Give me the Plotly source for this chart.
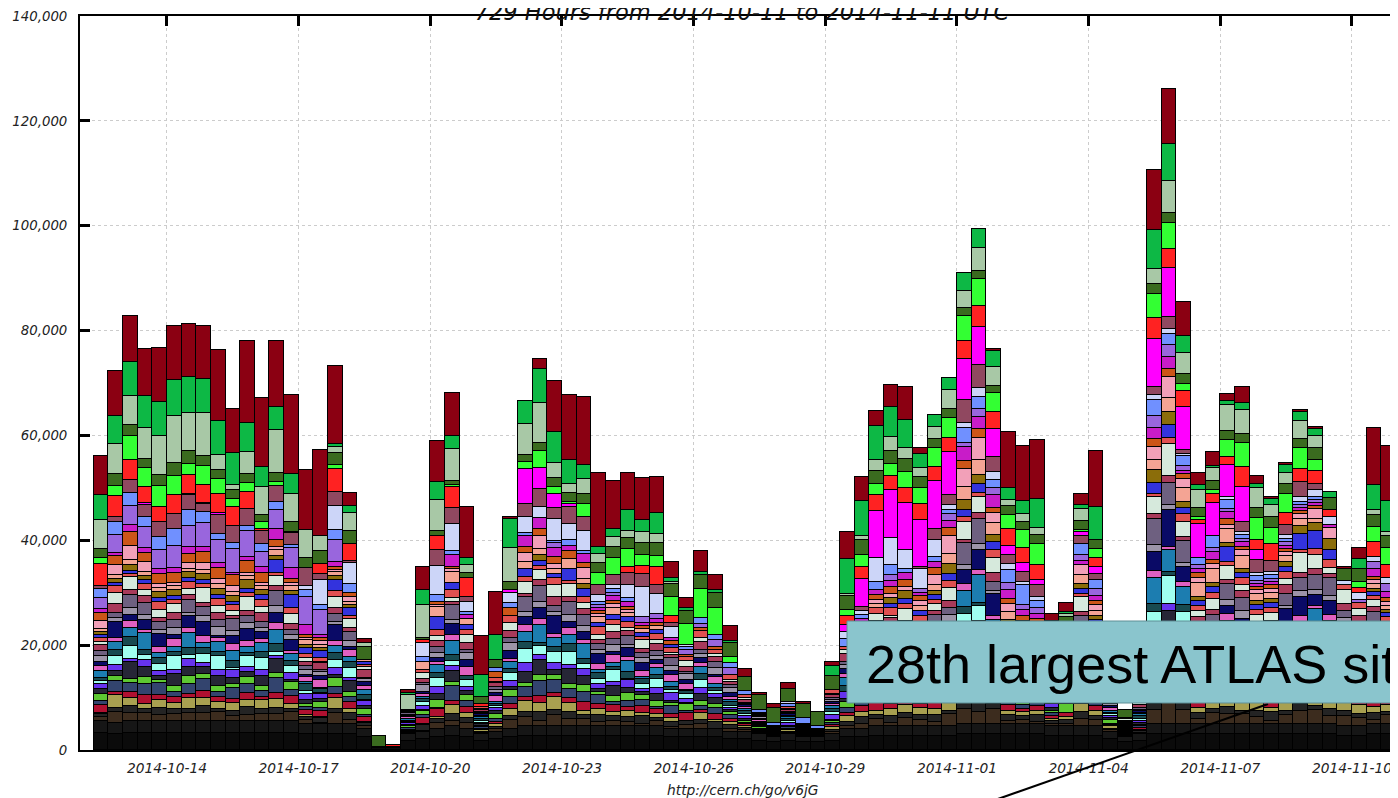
import pandas as pd
import plotly.graph_objects as go

# ---------------- data (values in thousands of jobs per 8-hour bin) ----------------
bin_start = "2014-10-12 08:00"
bin_hours = 8
n_bins = 90
tick_dates = ["2014-10-14", "2014-10-17", "2014-10-20", "2014-10-23", "2014-10-26",
              "2014-10-29", "2014-11-01", "2014-11-04", "2014-11-07", "2014-11-10"]
y_ticks = [0, 20000, 40000, 60000, 80000, 100000, 120000, 140000]
title_text = "729 Hours from 2014-10-11 to 2014-11-11 UTC"
url_text = "http://cern.ch/go/v6jG"
callout_text = "28th largest ATLAS site"

site_darkred = [7.3, 8.4, 8.8, 8.9, 10.3, 10.3, 10.1, 10.1, 13.6, 8.4,
                15.8, 13.3, 12.7, 15.1, 11.5, 16.4, 15.0, 2.5, 0.6, 0,
                0, 0.6, 4.5, 7.7, 8.2, 9.7, 7.3, 8.3, 0.4, 0,
                1.8, 9.7, 12.4, 13.1, 14.2, 9.2, 7.1, 8.0, 6.8, 3.0,
                2.0, 4.0, 2.9, 2.9, 1.5, 0.4, 0.6, 1.2, 0.4, 0,
                0.6, 5.1, 4.6, 2.9, 4.3, 6.2, 1.1, 0, 0, 0,
                0, 0.4, 10.6, 10.5, 11.3, 1.2, 1.6, 2.1, 10.7, 0,
                0, 0, 11.5, 10.5, 6.5, 2.4, 2.6, 1.4, 3.2, 1.6,
                0.4, 0.5, 0.5, 0.3, 0, 0.5, 2.1, 10.9, 10.5, 7.7]
site_green = [4.8, 5.5, 6.5, 6.1, 6.6, 6.9, 7.0, 6.6, 6.4, 6.1,
              5.4, 3.8, 4.3, 3.7, 0, 0, 0.6, 1.3, 0, 0,
              0, 0.4, 2.9, 3.5, 2.4, 1.3, 4.3, 4.8, 5.4, 4.3,
              6.6, 5.9, 4.5, 2.7, 1.3, 1.5, 4.1, 2.2, 4.1, 0.8,
              0.5, 0.5, 0.6, 0.3, 0, 0, 0, 0, 0, 0,
              2.0, 6.6, 6.6, 6.4, 5.7, 5.4, 2.7, 2.2, 2.3, 3.3,
              3.5, 3.1, 2.4, 2.4, 5.5, 1.5, 0.5, 0.7, 6.4, 0,
              0, 0, 7.5, 7.0, 3.2, 0.9, 0.5, 0.7, 1.2, 0.8,
              1.2, 1.4, 1.6, 1.5, 1.2, 0, 1.9, 4.8, 6.0, 7.0]
site_sage = [5.5, 5.6, 5.5, 5.9, 7.3, 9.0, 7.2, 8.2, 2.9, 1.0,
             4.3, 5.2, 8.2, 5.4, 5.3, 3.0, 1.1, 3.6, 0.8, 0,
             0, 2.7, 6.2, 5.9, 6.0, 1.6, 0, 0, 6.6, 5.9,
             7.5, 2.8, 1.7, 2.7, 1.8, 1.9, 1.3, 2.2, 1.7, 0.5,
             0, 0, 0, 0, 0, 0, 0, 0, 0, 0,
             0, 0.4, 0.8, 2.1, 2.7, 2.0, 1.8, 2.4, 3.6, 3.2,
             4.5, 3.6, 1.1, 1.5, 1.4, 1.5, 0.5, 2.4, 0, 0,
             0, 0, 2.9, 6.0, 4.1, 3.4, 2.4, 4.9, 4.6, 3.8,
             2.2, 2.2, 3.4, 2.2, 0, 0, 0, 0.8, 0.7, 0]
site_darkgreen = [1.8, 2.4, 2.1, 1.9, 2.2, 2.4, 2.5, 1.9, 1.8, 1.7,
                  1.7, 1.5, 1.8, 1.9, 1.9, 2.4, 2.2, 2.4, 2.5, 2.2,
                  0, 0, 0.5, 1.0, 0.8, 0.9, 1.3, 1.5, 1.4, 1.4,
                  1.6, 1.8, 1.8, 2.0, 1.9, 2.1, 2.1, 2.2, 2.5, 2.4,
                  2.4, 2.7, 2.9, 2.7, 2.7, 2.7, 2.9, 2.4, 2.7, 2.7,
                  2.7, 2.7, 2.9, 2.5, 2.4, 2.5, 2.1, 1.7, 1.7, 1.7,
                  1.4, 1.4, 1.7, 1.6, 1.7, 1.8, 1.8, 1.6, 1.6, 1.5,
                  1.5, 0, 1.9, 1.9, 1.9, 1.8, 1.8, 1.8, 1.8, 1.8,
                  2.2, 1.8, 1.8, 2.2, 2.2, 2.3, 2.4, 2.3, 2.3, 2.0]
site_brightgreen = [1.1, 1.9, 4.6, 3.6, 3.9, 3.6, 2.0, 3.6, 2.7, 1.6,
                    1.6, 1.3, 0.8, 0.3, 0, 0, 0.8, 0, 0, 0,
                    0, 0, 0, 0, 0.5, 0, 0, 0, 0, 1.3,
                    3.2, 1.3, 0.4, 2.5, 2.2, 3.4, 3.3, 2.1, 2.0, 3.6,
                    4.0, 5.6, 5.0, 1.3, 0, 0, 0, 0, 0, 0,
                    0, 1.1, 2.2, 2.2, 2.4, 3.2, 3.0, 3.7, 3.8, 4.7,
                    5.2, 3.6, 2.7, 3.3, 4.1, 1.5, 1.5, 0.5, 1.7, 0,
                    0, 0, 4.5, 5.1, 1.4, 0.5, 0.7, 3.2, 4.6, 4.3,
                    3.1, 3.6, 4.0, 2.1, 0, 0, 1.2, 3.0, 3.2, 2.0]
site_red = [4.3, 3.9, 3.8, 3.0, 3.0, 3.7, 3.6, 3.3, 3.7, 3.6,
            3.4, 0.4, 0, 0, 0, 1.9, 4.3, 3.2, 0, 0,
            0.4, 0, 0.4, 2.7, 4.0, 3.7, 0.6, 0, 0, 0,
            0, 0, 0, 0, 0, 0, 1.2, 1.5, 3.6, 1.4,
            0, 0, 0, 0, 0, 0, 0, 0, 0, 0,
            0, 1.7, 2.4, 3.0, 2.7, 2.7, 3.0, 2.5, 2.7, 3.5,
            4.1, 3.2, 3.2, 3.0, 2.7, 1.0, 1.5, 0, 1.7, 0,
            0, 1.0, 4.1, 3.6, 2.9, 0.7, 1.6, 1.5, 3.7, 1.9,
            3.1, 2.4, 2.4, 2.5, 1.4, 0, 1.0, 2.7, 2.5, 1.5]
site_magenta = [0, 0, 0, 0.3, 0, 0, 0.3, 0.3, 0.3, 0,
                0, 0, 0, 0, 0, 0, 0, 0, 0, 0,
                0, 0, 0, 0, 0, 0, 0, 0, 0.6, 6.7,
                4.0, 2.7, 0.6, 0, 0, 0, 0, 0, 0, 0,
                0, 0, 0, 0, 0, 0, 0, 0, 0, 0,
                0, 1.3, 5.4, 9.0, 9.1, 9.0, 8.9, 9.2, 8.3, 7.7,
                7.1, 5.4, 1.7, 1.6, 1.0, 0, 1.0, 0.7, 1.5, 0,
                0, 0, 9.0, 9.3, 8.3, 6.5, 6.3, 6.2, 6.8, 1.8,
                0, 0, 0, 0, 0, 0, 0, 0, 0, 0]
site_mauve = [0.4, 1.0, 2.5, 2.4, 2.7, 2.9, 2.9, 1.5, 3.7, 3.3,
              3.1, 2.5, 3.0, 2.2, 3.5, 1.1, 2.7, 0.4, 0, 0,
              0, 0, 0, 3.0, 3.0, 0.8, 0, 0, 0, 2.4,
              3.5, 2.1, 3.1, 2.7, 1.9, 1.9, 2.3, 2.5, 1.6, 0.8,
              0, 0, 0, 0, 0, 0, 0, 0, 0, 0,
              0, 0, 0.6, 0, 0, 0, 0.4, 2.1, 1.9, 4.5,
              4.5, 2.8, 1.8, 1.9, 2.4, 1.0, 1.0, 1.6, 1.0, 0,
              0, 0, 1.6, 2.3, 0.7, 0, 0, 0, 1.8, 2.6,
              2.1, 1.8, 2.9, 1.2, 0, 0, 0, 0, 0, 0]
site_lavender = [0, 0, 0, 0, 0, 0, 0, 0, 0, 0,
                 0, 0, 0, 0, 0.6, 4.8, 4.6, 4.1, 0, 0,
                 0, 0, 2.8, 5.6, 5.1, 1.9, 0, 0, 1.9, 3.2,
                 2.0, 4.1, 3.2, 3.8, 1.4, 0.7, 2.5, 5.7, 3.8, 2.1,
                 0.5, 0, 0, 0, 0, 0, 0, 0.4, 0, 0,
                 0, 1.5, 0.8, 4.5, 5.1, 3.7, 3.9, 3.2, 0.9, 0.9,
                 1.6, 1.5, 1.1, 0.6, 0.6, 0.8, 0, 0, 0, 0,
                 0, 0.8, 1.0, 1.0, 0.5, 0, 0, 0.5, 0.5, 0.6,
                 0.6, 0.9, 1.0, 1.4, 1.4, 0.7, 1.2, 1.1, 1.2, 1.0]
site_cornflower = [1.8, 2.4, 2.4, 1.9, 2.5, 3.1, 2.9, 2.1, 1.2, 1.1,
                   1.1, 1.4, 1.5, 0.6, 1.5, 1.0, 1.9, 1.6, 0, 0,
                   0, 0, 1.0, 1.3, 0.8, 0.6, 0, 0.8, 1.0, 0.4,
                   0, 0.5, 1.0, 0.6, 0.5, 0.8, 0.7, 0, 0, 0,
                   0.6, 1.0, 1.0, 0.8, 0.8, 0.6, 0.6, 0.6, 1.1, 0.6,
                   0, 1.4, 0.8, 1.5, 1.9, 0.8, 0, 1.0, 0.8, 2.8,
                   2.4, 1.5, 2.4, 3.8, 1.5, 1.0, 1.0, 2.1, 1.8, 0.8,
                   0, 0, 2.9, 2.1, 1.8, 1.4, 2.4, 1.7, 0.8, 0.8,
                   0.8, 0.6, 0.5, 0.5, 0, 0, 0, 0, 0, 0.8]
site_purple = [2.2, 3.5, 3.6, 3.9, 3.7, 4.3, 4.1, 4.6, 4.3, 4.5,
               4.8, 2.9, 3.7, 3.7, 5.2, 4.8, 4.3, 0, 0, 0,
               0, 0, 0, 0, 0, 0, 0, 0, 0, 0,
               0, 0.8, 0, 0, 0.6, 0.6, 0, 1.1, 1.1, 0,
               0.8, 0.8, 1.4, 1.3, 0, 0, 0, 0, 0, 0,
               0, 0, 0, 0, 1.1, 0, 0.8, 0, 1.3, 0.8,
               1.4, 1.3, 1.3, 1.0, 1.0, 0, 0, 1.0, 1.4, 0,
               0, 0, 2.3, 2.2, 1.0, 0.8, 0.8, 0.6, 0.6, 0.6,
               0.6, 0.6, 0.6, 0.6, 0, 0, 0.6, 1.2, 1.5, 0.8]
site_violet = [0.6, 0.6, 1.4, 1.0, 1.0, 1.0, 1.3, 0.9, 1.0, 0.5,
               0.8, 1.1, 2.0, 2.1, 1.9, 0.6, 0.8, 0, 0, 0,
               0, 0, 0, 0, 2.2, 0.8, 0, 0, 0, 2.2,
               2.2, 1.8, 1.0, 1.6, 0.6, 0.8, 1.0, 0.6, 0.6, 0.6,
               0, 0, 0, 0, 0, 0, 0, 0, 0, 0,
               0, 0, 0.8, 1.1, 1.3, 1.3, 0.6, 1.1, 1.4, 2.7,
               2.4, 2.5, 1.8, 1.2, 1.0, 0, 0, 0.8, 0.9, 0,
               0, 0, 2.1, 2.3, 0.6, 0.8, 1.4, 1.4, 0.9, 0.6,
               0.6, 0.6, 0.6, 0.6, 0.6, 0, 0, 1.6, 1.2, 0.8]
site_orange = [1.6, 1.8, 2.7, 1.8, 1.8, 1.9, 1.7, 2.1, 2.0, 2.1,
               2.4, 1.9, 1.4, 0.8, 0.6, 0.6, 0.6, 0.8, 0, 0,
               0, 0, 0, 0.5, 0.5, 0, 0, 1.1, 1.5, 1.1,
               1.3, 1.4, 1.5, 1.0, 0.6, 0.7, 0.6, 0.6, 0.6, 0.6,
               0.5, 0.6, 0.6, 0, 0, 0, 0, 0, 0, 0,
               0, 0, 0.6, 0.8, 1.2, 1.3, 0.8, 1.5, 1.4, 1.5,
               1.6, 1.0, 1.0, 0.8, 0.8, 0, 0, 0, 0.8, 0,
               0, 0, 1.6, 1.5, 1.0, 0.8, 0.8, 1.1, 0.6, 0.6,
               0.6, 0.6, 0.6, 0.6, 0, 0, 0, 0.6, 0.6, 0.6]
site_pink = [1.5, 1.8, 2.7, 1.8, 0.8, 0.6, 1.1, 1.3, 1.1, 1.0,
             0.6, 0.6, 0.5, 0.6, 0.5, 0.6, 0.5, 1.0, 0, 0,
             0, 0, 0, 0.5, 0.5, 0, 0, 0, 0, 1.7,
             2.5, 0.8, 0, 2.0, 0.6, 0.8, 0.6, 0, 0, 0,
             0, 0, 0, 0, 0, 0, 0, 0, 0, 0,
             0, 0, 0, 0.8, 0.8, 0.8, 1.0, 1.9, 3.5, 3.5,
             4.2, 1.9, 1.5, 1.2, 1.2, 0, 0, 1.9, 1.0, 0,
             0, 0, 2.5, 4.1, 1.6, 1.0, 1.0, 0.8, 1.2, 0.8,
             0.8, 0.8, 1.0, 1.8, 2.2, 0, 0, 0.8, 0.8, 0.6]
site_salmon = [0.6, 0.8, 1.0, 0.8, 0.8, 0.7, 0.7, 0.9, 0.8, 0.8,
               0.7, 0.8, 1.2, 1.0, 0.8, 0.7, 0.7, 0.6, 0.4, 0,
               0, 0, 1.5, 1.9, 2.1, 1.1, 0, 0, 0, 1.3,
               1.1, 1.1, 2.0, 1.1, 1.0, 1.2, 0.8, 0.8, 0.8, 0,
               0, 0, 0, 0, 0, 0, 0, 0, 0, 0,
               0, 0, 0, 0.8, 0, 0, 1.0, 1.0, 2.0, 2.4,
               2.9, 2.3, 1.5, 1.2, 1.2, 0, 0, 1.8, 1.0, 1.5,
               0, 1.0, 1.9, 2.6, 2.7, 2.7, 2.7, 2.6, 2.4, 1.2,
               1.2, 1.2, 1.2, 0.8, 0, 0, 0, 0.8, 0.8, 0.6]
site_olive = [0.5, 0.7, 1.0, 0.8, 1.2, 1.2, 1.1, 1.1, 1.2, 1.1,
              1.7, 1.0, 0.8, 0.8, 0.6, 0.5, 0.8, 0.6, 0, 0,
              0, 0, 0, 0, 0, 0, 0, 0, 0, 0,
              1.1, 0, 0, 0.9, 0, 0, 0, 0, 0, 0,
              0, 0, 0, 0, 0, 0, 0, 0, 0, 0,
              0, 0, 0, 0, 1.1, 1.5, 0, 0.8, 1.9, 2.0,
              1.7, 1.4, 1.0, 0.8, 0.8, 0, 0, 0.8, 0.8, 0,
              0, 0, 2.4, 2.5, 1.2, 0.8, 0.8, 0.8, 0.8, 0.8,
              0.8, 0.8, 1.6, 1.6, 2.1, 0, 0, 0.6, 0.6, 0.6]
site_blue = [0.6, 0.6, 0.6, 0.8, 0.6, 0.6, 0.8, 0.8, 0.8, 0.7,
             0.8, 0.8, 2.5, 2.5, 1.2, 1.3, 2.0, 1.4, 0.5, 0,
             0, 0, 0, 2.4, 1.3, 1.0, 0, 0, 0, 1.6,
             1.0, 0.6, 2.2, 1.6, 0.8, 1.0, 0.8, 0.7, 0.7, 0.6,
             0, 0, 0, 0, 0, 0, 0, 0, 0, 0,
             0, 0, 0, 0, 0.8, 1.0, 1.0, 1.0, 1.3, 1.3,
             1.7, 1.5, 1.2, 1.0, 1.0, 0, 0, 1.0, 1.0, 0,
             0, 0, 2.1, 2.5, 1.0, 1.0, 1.0, 2.9, 1.0, 1.0,
             1.0, 1.0, 3.1, 3.4, 1.8, 0, 0, 0.8, 0.8, 0.6]

# many smaller sites in the middle of the stack
site_coral = [0.8, 1.4, 0.6, 1.1, 1.6, 0.9, 1.2, 0.7, 1.3, 1.0,
              0.8, 1.4, 0.6, 1.1, 0.7, 0.9, 1.2, 0.7, 0.5, 0,
              0, 0.2, 0.6, 1.1, 1.6, 0.9, 0.3, 0.7, 1.3, 1.0,
              0.8, 1.4, 0.6, 1.1, 1.6, 0.9, 1.2, 0.7, 1.3, 1.0,
              0.8, 1.4, 0.6, 1.1, 0.4, 0.2, 0.1, 0.3, 0.1, 0.1,
              0.8, 0.7, 0.6, 1.1, 1.6, 0.9, 1.2, 0.7, 1.3, 1.0,
              0.8, 1.4, 0.6, 1.1, 1.6, 0.9, 0.6, 0.7, 1.3, 0.3,
              0.2, 0.3, 0.6, 1.1, 1.6, 0.9, 1.2, 0.7, 1.3, 1.0,
              0.8, 1.4, 0.6, 1.1, 1.6, 0.9, 1.2, 0.7, 1.3, 0.5]
site_mint = [0.6, 2.1, 2.5, 1.2, 1.5, 1.7, 1.2, 2.8, 1.3, 1.0,
             2.5, 1.2, 1.9, 1.8, 0.8, 0.2, 2.2, 1.6, 0.6, 0,
             0, 0.2, 1.0, 1.0, 0.7, 1.6, 0.3, 0.2, 1.6, 2.2,
             1.9, 2.4, 2.5, 1.1, 0.9, 1.4, 0.6, 1.6, 0.7, 0.4,
             1.0, 0.7, 0.7, 0.4, 0.4, 0.2, 0.2, 0.3, 0.1, 0.1,
             0.1, 0.7, 2.0, 1.4, 0.4, 2.2, 1.1, 1.4, 2.4, 3.4,
             3.1, 3.0, 1.4, 0.3, 0.4, 0.2, 0.6, 2.7, 0.8, 0.3,
             0.3, 0.4, 3.3, 6.2, 2.9, 1.1, 2.1, 2.7, 1.2, 1.9,
             1.6, 1.2, 3.8, 2.6, 1.2, 2.7, 1.4, 1.5, 1.4, 0.5]
site_rose = [1.1, 1.6, 0.9, 1.2, 0.7, 1.3, 1.0, 0.8, 1.4, 0.6,
             1.1, 1.6, 0.9, 1.2, 0.7, 1.3, 1.0, 0.8, 1.4, 0,
             0, 0.3, 0.9, 1.2, 0.7, 1.3, 0.3, 0.8, 1.4, 0.6,
             1.1, 1.6, 0.9, 1.2, 0.7, 1.3, 1.0, 0.8, 1.4, 0.6,
             1.1, 1.6, 0.9, 0.5, 0.7, 0.2, 0.1, 0.3, 0.1, 0.1,
             0.5, 1.6, 0.9, 1.2, 0.7, 1.3, 1.0, 0.8, 1.4, 0.6,
             1.1, 1.6, 0.9, 1.2, 0.7, 0.6, 1.0, 0.8, 1.4, 0.6,
             0.2, 0.4, 0.9, 1.2, 0.7, 1.3, 1.0, 0.8, 1.4, 0.6,
             1.1, 1.6, 0.9, 1.2, 0.7, 1.3, 1.0, 0.8, 1.4, 0.6]
site_greypurple = [1.0, 1.0, 2.5, 2.3, 1.6, 1.5, 2.5, 1.8, 1.4, 2.3,
                   1.3, 1.2, 2.9, 0.9, 0.9, 0.4, 1.5, 1.7, 0.2, 0,
                   0, 0.3, 0.3, 1.1, 2.8, 0.6, 0.3, 0.6, 0.8, 2.9,
                   3.0, 1.2, 2.5, 2.1, 1.2, 1.2, 1.7, 0.9, 0.8, 1.5,
                   0.3, 0.7, 1.1, 0.6, 0.1, 0.3, 0.1, 0.3, 0.2, 0.1,
                   0.5, 0.5, 1.1, 1.6, 2.3, 1.0, 1.6, 2.4, 1.4, 4.2,
                   4.8, 1.7, 1.2, 0.9, 0.8, 0.6, 0.7, 1.7, 1.0, 0.3,
                   0.2, 0.4, 5.0, 4.3, 4.2, 1.7, 1.5, 3.0, 2.3, 1.6,
                   1.6, 2.3, 2.4, 2.9, 3.5, 1.4, 1.9, 2.5, 0.6, 0.5]
site_grey = [1.2, 0.7, 1.3, 1.0, 0.8, 1.4, 0.6, 1.1, 1.6, 0.9,
             1.2, 0.7, 1.3, 1.0, 0.8, 0.7, 0.6, 1.1, 0.7, 0,
             0, 0.2, 1.3, 1.0, 0.8, 1.4, 0.2, 0.5, 1.6, 0.9,
             1.2, 0.7, 1.3, 1.0, 0.8, 1.4, 0.6, 1.1, 0.8, 0.9,
             1.2, 0.7, 1.3, 1.0, 0.3, 0.2, 0.1, 0.2, 0.1, 0.1,
             0.4, 0.7, 1.3, 1.0, 0.8, 1.4, 0.6, 1.1, 1.6, 0.9,
             1.2, 0.7, 1.3, 1.0, 0.8, 0.4, 0.6, 1.1, 1.6, 0.3,
             0.2, 0.3, 1.3, 1.0, 0.8, 1.4, 0.6, 1.1, 1.6, 0.9,
             1.2, 0.7, 1.3, 1.0, 0.8, 1.4, 0.6, 1.1, 1.6, 0.4]
site_navy = [0.6, 3.1, 1.2, 1.9, 2.5, 0.7, 2.3, 2.7, 0.5, 1.6,
             2.3, 1.4, 1.8, 2.1, 0.4, 0.7, 3.1, 0.7, 0.7, 0,
             0, 0.3, 0.4, 0.7, 2.1, 1.3, 0.3, 0.6, 1.5, 1.6,
             2.2, 3.4, 1.2, 1.7, 1.9, 0.4, 1.6, 1.4, 0.8, 0.8,
             0.8, 1.0, 0.4, 0.6, 0.3, 0.3, 0.2, 0.3, 0.2, 0.1,
             0.4, 1.0, 1.5, 1.0, 1.7, 2.0, 1.3, 1.6, 2.4, 2.6,
             3.7, 4.1, 0.3, 0.7, 1.4, 0.5, 0.9, 2.6, 0.1, 0.4,
             0.3, 0.3, 3.6, 6.9, 2.8, 1.1, 3.0, 1.6, 1.5, 2.2,
             0.8, 2.5, 3.5, 2.0, 2.7, 2.5, 1.5, 1.6, 1.3, 0.4]
site_hotpink = [1.0, 0.8, 1.4, 0.6, 1.1, 1.6, 0.9, 1.2, 0.7, 1.3,
                1.0, 0.8, 1.4, 0.6, 1.1, 1.6, 0.9, 1.2, 0.7, 0,
                0, 0.3, 0.5, 0.6, 1.1, 1.6, 0.3, 1.2, 0.7, 1.3,
                1.0, 0.8, 1.4, 0.6, 1.1, 1.6, 0.9, 1.2, 0.7, 1.3,
                1.0, 0.8, 1.4, 0.6, 0.4, 0.3, 0.1, 0.3, 0.2, 0,
                0.4, 0.8, 1.4, 0.6, 1.1, 1.6, 0.9, 1.2, 0.7, 1.3,
                1.0, 0.8, 1.4, 0.6, 1.1, 0.5, 0.9, 1.2, 0.7, 0.5,
                0.1, 0.3, 1.4, 0.6, 1.1, 1.6, 0.9, 1.2, 0.7, 1.3,
                1.0, 0.8, 1.4, 0.6, 1.1, 1.6, 0.9, 1.2, 0.7, 0.5]
site_teal = [1.3, 1.5, 1.7, 3.2, 0.9, 1.0, 2.9, 1.1, 1.9, 1.9,
             1.2, 1.8, 2.7, 1.3, 0.4, 0.2, 1.4, 1.1, 1.1, 0,
             0, 0.4, 0.5, 1.5, 2.7, 0.1, 0.3, 0.3, 1.2, 1.9,
             3.4, 1.7, 1.7, 3.0, 0.6, 0.7, 2.0, 0.3, 1.3, 0.9,
             0.2, 1.3, 0.8, 0.4, 0.4, 0.3, 0.1, 0.3, 0.2, 0.1,
             0.5, 1.5, 0.3, 1.9, 2.2, 0.5, 1.4, 2.3, 1.8, 3.1,
             5.4, 2.1, 0.6, 1.6, 0.2, 0.6, 1.0, 1.0, 1.4, 0.5,
             0.2, 0.4, 4.9, 4.2, 3.4, 1.6, 1.3, 2.2, 3.3, 0.6,
             1.4, 3.4, 1.5, 3.1, 3.4, 0.8, 1.7, 2.3, 1.1, 0.5]
site_darkslate = [0.6, 1.1, 1.6, 0.9, 1.2, 0.7, 1.3, 1.0, 0.8, 1.4,
                  0.6, 1.1, 1.6, 0.9, 1.2, 0.7, 1.3, 1.0, 0.8, 0,
                  0, 0.2, 0.6, 0.9, 1.2, 0.7, 0.3, 0.4, 0.8, 1.4,
                  0.6, 1.1, 1.6, 0.9, 1.2, 0.7, 1.3, 1.0, 0.8, 0.6,
                  0.6, 1.1, 0.6, 0.9, 0.5, 0.1, 0.1, 0.3, 0.1, 0.1,
                  0.6, 1.1, 1.6, 0.9, 1.2, 0.7, 1.3, 1.0, 0.8, 1.4,
                  0.6, 1.1, 1.6, 0.9, 1.2, 0.7, 0.5, 1.0, 0.8, 0.2,
                  0.2, 0.4, 1.6, 0.9, 1.2, 0.7, 1.3, 1.0, 0.8, 1.4,
                  0.6, 1.1, 1.6, 0.9, 1.2, 0.7, 1.3, 1.0, 0.8, 0.6]
site_aqua = [0.6, 1.8, 2.5, 1.1, 1.3, 2.6, 0.8, 1.9, 2.6, 0.3,
             2.1, 2.2, 0.6, 1.5, 0.7, 0.3, 1.5, 2.0, 0.2, 0,
             0, 0.2, 0.7, 1.8, 0.8, 1.4, 0.4, 0.4, 1.6, 2.7,
             1.8, 2.1, 2.4, 1.0, 0.9, 2.2, 0.3, 0.9, 1.8, 0.6,
             0.9, 1.6, 0.6, 0.3, 0.5, 0.2, 0.1, 0.4, 0.1, 0.1,
             0.6, 0.1, 0.6, 2.4, 0.6, 1.9, 1.7, 0.9, 2.3, 4.3,
             2.8, 2.6, 0.9, 0.3, 0.5, 0.8, 0.5, 1.8, 2.0, 0.3,
             0.2, 0.5, 1.8, 5.2, 4.6, 1.0, 1.5, 3.4, 1.4, 1.0,
             2.6, 1.2, 2.1, 3.9, 1.2, 2.3, 2.1, 0.9, 1.5, 0.7]
site_purpleblue = [0.9, 1.2, 0.7, 1.3, 1.0, 0.8, 1.4, 0.6, 1.1, 1.6,
                   0.9, 1.2, 0.7, 1.3, 1.0, 0.8, 1.4, 0.6, 1.1, 0,
                   0, 0.3, 0.7, 1.3, 1.0, 0.8, 0.3, 0.6, 1.1, 1.6,
                   0.9, 1.2, 0.7, 1.3, 1.0, 0.8, 1.4, 0.6, 1.1, 1.6,
                   0.9, 1.2, 0.7, 0.4, 0.4, 0.2, 0.1, 0.6, 0.1, 0,
                   0.9, 1.2, 0.7, 1.3, 1.0, 0.8, 1.4, 0.6, 1.1, 1.6,
                   0.9, 1.2, 0.7, 1.3, 1.0, 0.8, 1.4, 0.6, 1.1, 0.4,
                   0.1, 0.4, 0.7, 1.3, 1.0, 0.8, 1.4, 0.6, 1.1, 1.6,
                   0.9, 1.2, 0.7, 1.3, 1.0, 0.8, 1.4, 0.6, 1.1, 0.6]
site_darkgrey = [1.1, 0.8, 3.1, 1.9, 0.8, 2.3, 1.8, 1.4, 2.0, 1.1,
                 1.0, 1.9, 2.7, 0.4, 0.8, 0.7, 0.6, 2.1, 0.4, 0,
                 0, 0.3, 0.2, 1.2, 2.2, 0.7, 0.4, 0.6, 0.6, 2.2,
                 2.8, 1.0, 3.0, 1.7, 0.5, 1.9, 1.0, 0.7, 1.3, 0.3,
                 0.2, 1.3, 1.1, 0.4, 0.5, 0.3, 0.1, 0.1, 0.2, 0.1,
                 0.2, 0.7, 0.8, 1.7, 1.8, 1.0, 1.4, 2.3, 1.0, 3.6,
                 4.5, 1.4, 1.6, 0.6, 0.2, 0.6, 0.2, 1.4, 1.5, 0.4,
                 0.2, 0.4, 4.7, 2.9, 4.3, 1.9, 0.5, 3.5, 2.3, 0.1,
                 2.0, 2.3, 1.9, 3.1, 2.8, 1.3, 1.7, 2.4, 0.5, 0.6]
site_lime = [1.3, 1.0, 0.8, 1.4, 0.6, 1.1, 1.6, 0.9, 1.2, 0.7,
             1.3, 1.0, 0.8, 1.4, 0.6, 1.1, 1.6, 0.9, 1.2, 0,
             0, 0.3, 0.8, 1.4, 0.6, 1.1, 0.2, 0.9, 1.2, 0.7,
             1.3, 1.0, 0.8, 1.4, 0.6, 1.1, 1.6, 0.9, 1.2, 0.7,
             1.3, 1.0, 0.8, 0.6, 0.3, 0.2, 0.1, 0.2, 0.1, 0.1,
             0.4, 1.0, 0.8, 1.4, 0.6, 1.1, 1.6, 0.9, 1.2, 0.7,
             1.3, 1.0, 0.8, 1.4, 0.6, 0.4, 1.6, 0.9, 1.2, 0.7,
             0.2, 0.2, 0.8, 1.4, 0.6, 1.1, 1.6, 0.9, 1.2, 0.7,
             1.3, 1.0, 0.8, 1.4, 0.6, 1.1, 1.6, 0.9, 1.2, 0.7]
site_slate = [0.8, 2.2, 1.7, 2.1, 2.2, 1.0, 1.9, 2.3, 0.9, 2.2,
              1.7, 1.1, 3.0, 1.2, 0.6, 0.6, 1.5, 0.9, 0.4, 0,
              0, 0.3, 0.6, 0.3, 2.9, 1.2, 0.3, 0.5, 1.4, 1.8,
              2.8, 2.5, 1.7, 1.9, 1.7, 0.7, 1.1, 1.2, 0.4, 1.4,
              0.4, 0.7, 1.2, 0.7, 0.3, 0.3, 0.2, 0.3, 0.2, 0.1,
              0.4, 1.1, 1.6, 0.6, 2.4, 1.7, 0.3, 2.3, 2.2, 2.8,
              4.6, 3.0, 0.8, 0.7, 1.2, 0.5, 0.1, 2.2, 0.5, 0.2,
              0.2, 0.3, 5.1, 5.3, 3.0, 1.9, 1.5, 1.8, 2.5, 2.0,
              0.7, 2.9, 3.2, 1.6, 3.6, 2.2, 0.5, 2.4, 1.3, 0.1]
site_crimson = [1.4, 0.6, 1.1, 1.6, 0.9, 1.2, 0.7, 1.3, 1.0, 0.8,
                1.4, 0.6, 1.1, 1.6, 0.9, 1.2, 0.7, 1.3, 1.0, 0,
                0, 0.2, 1.1, 1.6, 0.9, 1.2, 0.2, 0.5, 1.0, 0.8,
                1.4, 0.6, 1.1, 1.6, 0.9, 1.2, 0.7, 1.3, 1.0, 0.8,
                1.4, 0.6, 1.1, 0.6, 0.3, 0.2, 0.1, 0.2, 0.1, 0.1,
                0.4, 0.6, 1.1, 1.6, 0.9, 1.2, 0.7, 1.3, 1.0, 0.8,
                1.4, 0.6, 1.1, 0.7, 0.9, 0.5, 0.7, 1.3, 1.0, 0.3,
                0.2, 0.3, 1.1, 1.6, 0.9, 1.2, 0.7, 1.3, 1.0, 0.8,
                1.4, 0.6, 1.1, 1.6, 0.9, 1.2, 0.7, 1.3, 1.0, 0.8]
site_khaki = [0.2, 2.3, 1.7, 1.0, 1.6, 1.1, 2.0, 1.6, 1.3, 1.4,
              1.3, 1.7, 1.7, 0.8, 0.4, 0.1, 2.1, 0.8, 0.2, 0,
              0, 0.3, 0.2, 0.3, 1.7, 0.9, 0.3, 0.5, 1.4, 2.1,
              1.7, 2.6, 1.7, 0.9, 1.2, 0.8, 1.3, 0.6, 0.7, 0.7,
              0.1, 1.2, 0.4, 0.6, 0.4, 0.2, 0.1, 0.3, 0.2, 0.1,
              0.4, 1.0, 1.1, 0.7, 1.4, 1.4, 1.4, 1.1, 2.1, 3.1,
              3.0, 3.1, 0.7, 0.8, 0.8, 0.5, 0.6, 1.5, 1.0, 0.4,
              0.2, 0.3, 3.3, 4.4, 3.1, 1.1, 2.1, 1.8, 1.8, 1.6,
              0.8, 2.3, 2.6, 1.7, 2.2, 1.8, 1.7, 1.1, 1.3, 0.1]
site_charcoal = [0.7, 0.9, 1.2, 0.7, 1.3, 1.0, 0.8, 1.4, 0.6, 1.1,
                 1.6, 0.9, 1.2, 0.7, 0.6, 1.0, 0.8, 1.4, 0.6, 0,
                 0, 0.2, 1.2, 0.7, 1.3, 1.0, 0.2, 0.4, 0.6, 1.1,
                 1.6, 0.9, 1.2, 0.7, 1.3, 1.0, 0.8, 1.4, 0.6, 1.1,
                 0.7, 0.9, 1.2, 0.7, 0.3, 0.2, 0.1, 0.2, 0.1, 0,
                 0.4, 0.9, 1.2, 0.7, 1.3, 1.0, 0.8, 1.4, 0.6, 1.1,
                 1.6, 0.9, 1.2, 0.7, 1.3, 0.5, 0.8, 1.4, 0.6, 0.3,
                 0.2, 0.3, 1.2, 0.7, 1.3, 1.0, 0.8, 1.4, 0.6, 1.1,
                 1.6, 0.9, 1.2, 0.7, 1.3, 1.0, 0.8, 1.4, 0.6, 0.4]
site_brown = [0.7, 2.0, 1.6, 1.6, 1.2, 1.3, 1.6, 1.5, 1.7, 0.9,
              1.1, 1.4, 1.3, 1.7, 0.7, 0.1, 2.0, 0.7, 0.5, 0,
              0, 0.2, 0.1, 1.2, 1.0, 1.1, 0.3, 0.5, 1.8, 1.7,
              1.1, 2.2, 1.5, 1.4, 0.9, 1.0, 0.9, 0.5, 1.0, 0.3,
              0.8, 0.9, 0.1, 0.5, 0.4, 0.2, 0.1, 0.3, 0.1, 0.1,
              0.5, 0.5, 1.0, 1.5, 0.6, 1.6, 1.3, 0.8, 2.4, 2.9,
              2.3, 2.8, 0.5, 0.7, 0.3, 0.5, 0.4, 1.4, 1.3, 0.3,
              0.2, 0.3, 2.6, 5.3, 2.6, 1.0, 2.0, 1.8, 1.8, 1.3,
              0.6, 1.6, 2.5, 2.6, 1.5, 2.0, 1.6, 0.7, 1.6, 0.5]
small_sites_a = [2.2, 2.1, 2.2, 2.2, 2.2, 2.2, 2.2, 2.2, 2.2, 2.2,
                 2.2, 2.2, 2.2, 2.2, 2.0, 2.0, 2.0, 2.0, 1.6, 0.2,
                 0.2, 1.2, 1.4, 1.6, 1.8, 1.6, 1.2, 1.4, 1.6, 1.8,
                 1.8, 1.8, 1.8, 1.8, 1.8, 1.8, 1.8, 1.8, 1.8, 1.6,
                 1.6, 1.6, 1.6, 1.4, 1.4, 1.2, 1.0, 1.2, 1.0, 1.0,
                 1.2, 1.6, 1.6, 1.8, 1.8, 1.8, 1.8, 1.8, 1.8, 2.0,
                 2.0, 2.0, 2.0, 2.0, 2.0, 1.8, 1.8, 1.8, 1.8, 1.4,
                 1.0, 1.2, 2.0, 2.0, 2.0, 2.0, 2.0, 2.0, 2.0, 2.0,
                 2.0, 2.0, 2.0, 2.0, 2.0, 1.8, 1.8, 2.0, 2.0, 1.8]
small_sites_b = [3.3, 3.1, 3.3, 3.3, 3.3, 3.3, 3.3, 3.3, 3.3, 3.3,
                 3.3, 3.3, 3.3, 3.3, 3.0, 3.0, 3.0, 3.0, 2.4, 0.3,
                 0.4, 1.8, 2.1, 2.4, 2.7, 2.4, 1.8, 2.1, 2.4, 2.7,
                 2.7, 2.7, 2.7, 2.7, 2.7, 2.7, 2.7, 2.7, 2.7, 2.4,
                 2.4, 2.4, 2.4, 2.1, 2.1, 1.8, 1.5, 1.8, 1.5, 1.5,
                 1.8, 2.4, 2.4, 2.7, 2.7, 2.7, 2.7, 2.7, 2.7, 3.0,
                 3.0, 3.0, 3.0, 3.0, 3.0, 2.7, 2.7, 2.7, 2.7, 2.1,
                 1.5, 1.8, 3.0, 3.0, 3.0, 3.0, 3.0, 3.0, 3.0, 3.0,
                 3.0, 3.0, 3.0, 3.0, 3.0, 2.7, 2.7, 3.0, 3.0, 2.7]

# stacking order: bottom first
series = [
    ("small sites B", small_sites_b, "#0b0b0b"),
    ("small sites A", small_sites_a, "#161616"),
    ("site brown", site_brown, "#3C2C1E"),
    ("site charcoal", site_charcoal, "#242424"),
    ("site khaki", site_khaki, "#A8A050"),
    ("site crimson", site_crimson, "#B01030"),
    ("site slate", site_slate, "#33446E"),
    ("site lime", site_lime, "#5DC832"),
    ("site dark grey", site_darkgrey, "#262636"),
    ("site purple-blue", site_purpleblue, "#6633EE"),
    ("site aqua", site_aqua, "#A0FFF0"),
    ("site dark slate", site_darkslate, "#184A50"),
    ("site teal", site_teal, "#1C7DB0"),
    ("site hot pink", site_hotpink, "#E060C0"),
    ("site navy", site_navy, "#0A0A66"),
    ("site grey", site_grey, "#9C94A8"),
    ("site grey-purple", site_greypurple, "#6E6080"),
    ("site rose", site_rose, "#A83A5A"),
    ("site mint", site_mint, "#D6E9DC"),
    ("site coral", site_coral, "#E05050"),
    ("site blue", site_blue, "#3333DD"),
    ("site olive", site_olive, "#8B6D0A"),
    ("site salmon", site_salmon, "#F4A494"),
    ("site pink", site_pink, "#F2A0B8"),
    ("site orange", site_orange, "#CC5518"),
    ("site violet", site_violet, "#C81CC8"),
    ("site purple", site_purple, "#9966DD"),
    ("site cornflower", site_cornflower, "#7090FF"),
    ("site lavender", site_lavender, "#CCD5F8"),
    ("site mauve", site_mauve, "#904860"),
    ("site magenta", site_magenta, "#FF00FF"),
    ("site red", site_red, "#FF2222"),
    ("site bright green", site_brightgreen, "#33FF33"),
    ("site dark green", site_darkgreen, "#3A6B1F"),
    ("site sage", site_sage, "#A8C8A6"),
    ("site green", site_green, "#0DB845"),
    ("site dark red", site_darkred, "#8B0012"),
]

# ---------------- figure ----------------
# the page body has an 8px margin, so the figure starts at (8, 8) in the window
OFF = 8
W, H = 1390, 798
ML, MR, MT, MB = 72, 0, 8, 56
PW, PH = W - ML - MR, H - MT - MB
PLOT_LEFT, PLOT_BOTTOM = OFF + ML, OFF + H - MB


def px_x(px):
    return (px - PLOT_LEFT) / PW


def px_y(py):
    return (PLOT_BOTTOM - py) / PH


x_bins = pd.date_range(bin_start, periods=n_bins, freq=f"{bin_hours}h")
width_ms = bin_hours * 3600 * 1000

fig = go.Figure()
for name, vals, color in series:
    assert len(vals) == n_bins, name
    fig.add_trace(go.Bar(
        x=x_bins, y=[v * 1000 for v in vals], name=name,
        width=width_ms, offset=0,
        marker=dict(color=color, line=dict(color="#000000", width=1)),
        showlegend=False,
        hovertemplate="%{x|%Y-%m-%d %H:%M}<br>" + name + ": %{y:,.0f}<extra></extra>",
    ))

fig.update_layout(
    width=W, height=H,
    margin=dict(l=ML, r=MR, t=MT, b=MB, autoexpand=False),
    barmode="stack", bargap=0,
    plot_bgcolor="white", paper_bgcolor="white",
    font=dict(family="DejaVu Sans", color="#222222"),
    title=dict(text=title_text, x=(742 - OFF) / W, xanchor="center", xref="container",
               y=1 - (20 - OFF) / H, yanchor="bottom", yref="container",
               font=dict(family="DejaVu Sans", size=22.5, style="italic", color="#111111")),
)

fig.update_xaxes(
    type="date", range=["2014-10-12 00:26", "2014-11-11 01:10"],
    tickvals=tick_dates, ticktext=tick_dates,
    ticks="inside", ticklen=10, tickwidth=3, tickcolor="#000000",
    showline=True, linecolor="#000000", linewidth=2, mirror="ticks",
    showgrid=True, gridcolor="#cccccc", griddash="dot", gridwidth=1,
    zeroline=False, layer="below traces",
    tickfont=dict(family="DejaVu Sans", size=13.8, color="#222222", style="italic"),
    ticklabelstandoff=4,
)
fig.update_yaxes(
    range=[0, 140000], tickvals=y_ticks, tickformat=",",
    ticks="inside", ticklen=10, tickwidth=3, tickcolor="#000000",
    showline=True, linecolor="#000000", linewidth=2,
    showgrid=True, gridcolor="#cccccc", griddash="dot", gridwidth=1,
    zeroline=False,
    tickfont=dict(family="DejaVu Sans", size=13.3, color="#222222", style="italic"),
    ticklabelstandoff=8,
)

# pointer line and call-out box
fig.add_shape(type="line", xref="paper", yref="paper",
              x0=px_x(995), y0=px_y(800), x1=px_x(1268), y1=px_y(704),
              line=dict(color="#000000", width=2), layer="above")
fig.add_shape(type="rect", xref="paper", yref="paper",
              x0=px_x(847), y0=px_y(703), x1=px_x(1440), y1=px_y(621),
              fillcolor="#8AC5CD", line=dict(color="#5E8F96", width=1), layer="above")
fig.add_annotation(text=callout_text, xref="paper", yref="paper",
                   x=px_x(864), y=px_y(664), xanchor="left", yanchor="middle",
                   showarrow=False,
                   font=dict(family="Liberation Sans", size=54, color="#000000"))
fig.add_annotation(text=url_text, xref="paper", yref="paper",
                   x=px_x(742), y=px_y(790), xanchor="center", yanchor="middle",
                   showarrow=False,
                   font=dict(family="DejaVu Sans", size=13.8, color="#222222", style="italic"))

fig.write_html("out.html")
